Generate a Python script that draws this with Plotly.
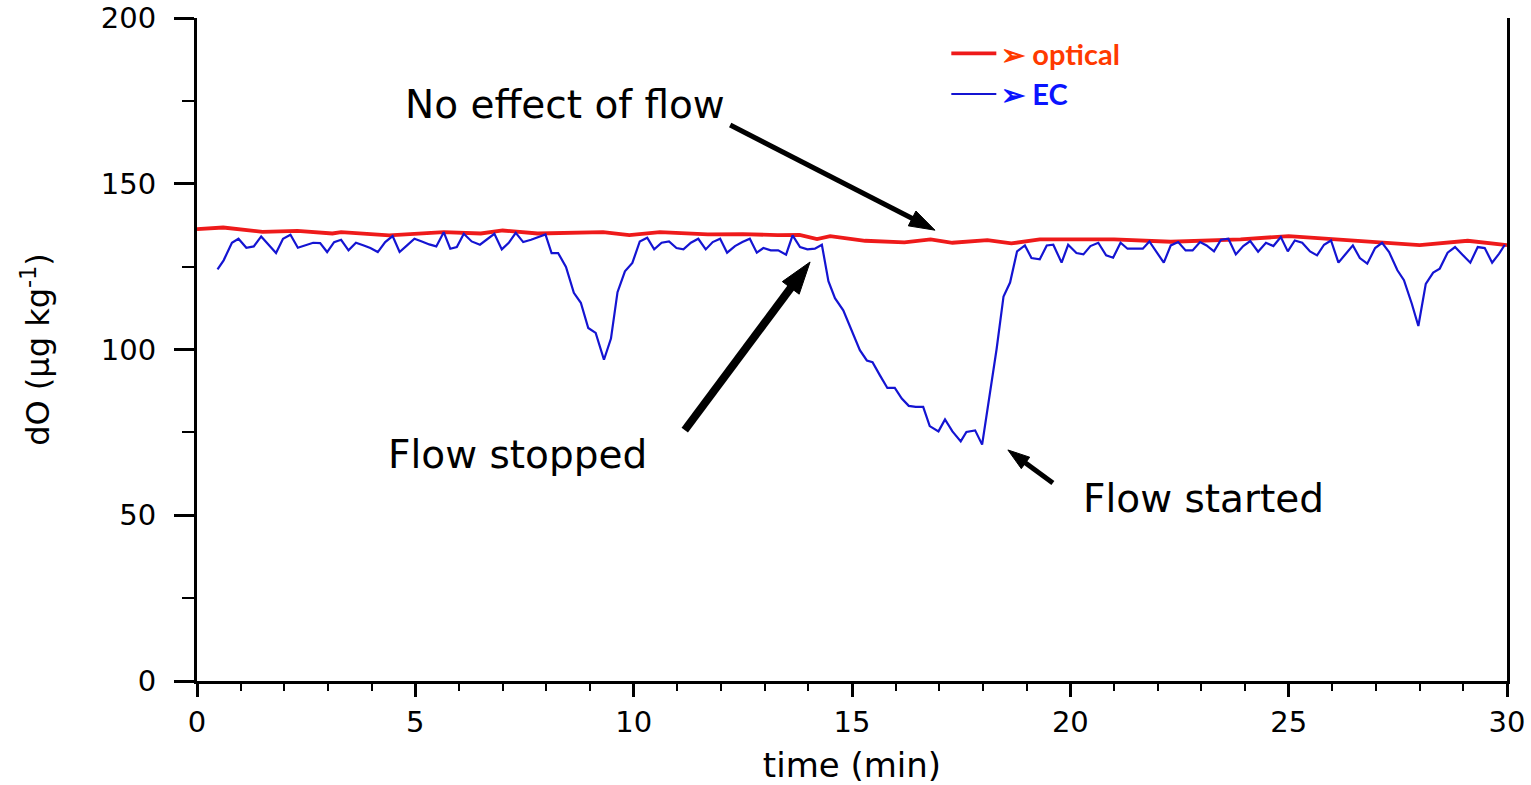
import plotly.graph_objects as go

# ---- data ----
ec_time = [0.47, 0.61, 0.80, 0.95, 1.13, 1.30, 1.47, 1.64, 1.81, 1.97, 2.14, 2.31, 2.48, 2.66, 2.82, 2.98,
           3.14, 3.30, 3.47, 3.64, 3.82, 3.97, 4.14, 4.31, 4.48, 4.64, 4.81, 4.98, 5.15, 5.32, 5.48, 5.65,
           5.80, 5.95, 6.11, 6.29, 6.48, 6.65, 6.81, 6.98, 7.14, 7.30, 7.47, 7.65, 7.82, 7.98, 8.12, 8.27,
           8.45, 8.63, 8.79, 8.96, 9.13, 9.32, 9.48, 9.63, 9.80, 9.97, 10.14, 10.31, 10.47, 10.64, 10.81,
           10.98, 11.14, 11.31, 11.48, 11.65, 11.81, 11.98, 12.14, 12.32, 12.49, 12.66, 12.82, 12.97, 13.14,
           13.31, 13.49, 13.64, 13.81, 13.98, 14.15, 14.31, 14.46, 14.61, 14.80, 14.99, 15.18, 15.34, 15.47,
           15.64, 15.81, 15.98, 16.14, 16.30, 16.46, 16.63, 16.78, 16.98, 17.13, 17.30, 17.49, 17.62, 17.82,
           17.98, 18.15, 18.31, 18.47, 18.62, 18.78, 18.96, 19.11, 19.30, 19.46, 19.61, 19.80, 19.95, 20.14,
           20.30, 20.46, 20.64, 20.82, 20.98, 21.15, 21.31, 21.48, 21.66, 21.81, 21.98, 22.14, 22.30, 22.47,
           22.64, 22.80, 22.97, 23.12, 23.29, 23.45, 23.62, 23.79, 23.96, 24.12, 24.30, 24.48, 24.65, 24.82,
           24.98, 25.14, 25.31, 25.49, 25.65, 25.81, 25.97, 26.14, 26.31, 26.47, 26.63, 26.80, 26.98, 27.14,
           27.30, 27.49, 27.64, 27.82, 27.97, 28.14, 28.31, 28.46, 28.64, 28.81, 28.98, 29.16, 29.33, 29.49,
           29.66, 29.82, 29.95]
ec_value = [124.2, 126.9, 132.2, 133.4, 130.7, 131.1, 134.1, 131.6, 129.1, 133.4, 134.6, 130.7, 131.4, 132.2,
            132.1, 129.4, 132.4, 133.1, 129.9, 132.2, 131.4, 130.6, 129.4, 132.4, 134.2, 129.4, 131.4, 133.4,
            132.6, 131.7, 131.1, 135.4, 130.4, 130.9, 134.9, 132.6, 131.6, 133.4, 134.9, 130.2, 132.2, 135.2,
            132.4, 133.1, 133.9, 134.7, 129.1, 129.1, 124.9, 117.1, 114.1, 106.5, 105.0, 96.9, 103.3, 117.3,
            123.6, 126.1, 132.6, 133.7, 130.2, 132.2, 132.6, 130.6, 130.2, 132.2, 133.4, 130.2, 132.4, 133.4,
            129.2, 131.2, 132.4, 133.4, 129.2, 130.6, 129.9, 129.9, 128.6, 134.4, 130.9, 130.2, 130.4, 131.6,
            120.6, 115.5, 111.8, 105.8, 99.8, 96.7, 96.2, 92.2, 88.4, 88.4, 85.2, 83.0, 82.7, 82.7, 76.9,
            75.3, 78.9, 75.3, 72.3, 75.1, 75.6, 71.3, 86.0, 100.0, 116.0, 120.2, 129.6, 131.4, 127.6, 127.2,
            131.4, 131.6, 126.2, 131.6, 129.1, 128.7, 131.2, 132.2, 128.4, 127.7, 132.2, 130.4, 130.4, 130.4,
            132.6, 129.4, 126.2, 131.4, 132.4, 129.9, 129.9, 132.4, 131.4, 129.6, 133.1, 133.4, 128.7, 131.2,
            132.7, 129.5, 132.2, 131.2, 133.9, 129.6, 132.9, 132.2, 129.6, 128.4, 131.6, 132.9, 126.2, 128.9,
            131.4, 127.6, 125.9, 130.6, 132.2, 129.4, 123.9, 120.9, 113.8, 107.1, 119.8, 123.2, 124.4, 129.2,
            130.9, 128.6, 126.2, 130.9, 130.6, 126.2, 128.9, 131.6]

opt_time = [0.0, 0.6, 1.5, 2.3, 3.1, 3.3, 4.4, 5.3, 5.65, 6.5, 7.0, 7.8, 8.5, 9.3, 9.9, 10.6, 11.7, 12.5,
            13.3, 13.8, 14.2, 14.5, 15.3, 16.2, 16.8, 17.3, 18.1, 18.65, 19.3, 21.0, 22.3, 23.9, 25.0,
            26.2, 27.1, 28.0, 29.1, 30.0]
opt_value = [136.3, 136.8, 135.5, 135.8, 135.0, 135.4, 134.4, 135.0, 135.4, 135.0, 135.9, 135.0, 135.1,
             135.4, 134.5, 135.4, 134.7, 134.8, 134.5, 134.6, 133.3, 134.2, 132.8, 132.3, 133.2, 132.2,
             133.0, 132.0, 133.2, 133.2, 132.5, 133.2, 134.2, 133.2, 132.3, 131.5, 132.8, 131.5]

x_ticks = [0, 5, 10, 15, 20, 25, 30]
y_ticks = [0, 50, 100, 150, 200]

# annotation texts and their arrows (tail -> head, in axis units)
note_text = ["No effect of flow", "Flow stopped", "Flow started"]
note_t = [8.43, 7.33, 23.05]
note_v = [173.8, 68.2, 55.2]
arrow_tail_t = [12.21, 11.17, 19.60]
arrow_tail_v = [167.7, 75.7, 59.7]
arrow_head_t = [16.90, 14.04, 18.57]
arrow_head_v = [136.0, 126.4, 69.7]

OPT_COLOR = "#EE1A1A"
EC_COLOR = "#1414D2"
FONT = "DejaVu Sans"

fig = go.Figure()
fig.add_trace(go.Scatter(
    x=opt_time, y=opt_value, mode="lines",
    line=dict(color=OPT_COLOR, width=3.8),
    name="<span style='color:#FF3A00;font-weight:bold'>➢ optical</span>",
))
fig.add_trace(go.Scatter(
    x=ec_time, y=ec_value, mode="lines",
    line=dict(color=EC_COLOR, width=2.2),
    name="<span style='color:#0A14FF;font-weight:bold'>➢ EC</span>",
))

# arrows (line + arrowhead marker oriented along the segment)
arrow_width = [5, 8, 5]
arrow_head = [27, 34, 23]
for i in range(3):
    fig.add_trace(go.Scatter(
        x=[arrow_tail_t[i], arrow_head_t[i]], y=[arrow_tail_v[i], arrow_head_v[i]],
        mode="lines+markers", showlegend=False, hoverinfo="skip",
        line=dict(color="black", width=arrow_width[i]),
        marker=dict(symbol="arrow", angleref="previous", size=[0, arrow_head[i]],
                    color="black", opacity=1, line=dict(width=1, color="black")),
    ))

axis_common = dict(
    showgrid=False, zeroline=False, showline=True, linecolor="black", linewidth=3,
    ticks="outside", tickcolor="black", tickwidth=2.5,
    tickfont=dict(family=FONT, size=29, color="black"),
)

fig.update_xaxes(
    range=[0, 30], tickvals=x_ticks, ticklen=13,
    minor=dict(ticks="outside", dtick=1, ticklen=7, tickcolor="black", tickwidth=2),
    title=dict(text="time (min)", font=dict(family=FONT, size=34, color="black"), standoff=16),
    **axis_common,
)
fig.update_yaxes(
    range=[0, 200], tickvals=y_ticks, ticklen=20, mirror=True, ticklabelstandoff=12,
    minor=dict(ticks="outside", dtick=25, ticklen=12, tickcolor="black", tickwidth=2),
    title=dict(text="dO (μg kg<sup>-1</sup>)", font=dict(family=FONT, size=32, color="black"), standoff=42),
    **axis_common,
)

ann_font = dict(family=FONT, size=39, color="black")
for txt, t, v in zip(note_text, note_t, note_v):
    fig.add_annotation(x=t, y=v, text=txt, showarrow=False, font=ann_font)

fig.update_layout(
    width=1531, height=785,
    margin=dict(l=197, r=24, t=18, b=104, autoexpand=False),
    paper_bgcolor="white", plot_bgcolor="white",
    legend=dict(
        x=0.572, y=0.985, xanchor="left", yanchor="top",
        font=dict(family="Lato", size=29),
        bgcolor="rgba(0,0,0,0)", tracegroupgap=0, itemwidth=45,
    ),
)

fig.write_html("out.html")
